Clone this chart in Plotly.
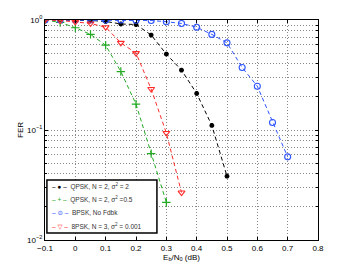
import plotly.graph_objects as go

# Eb/N0 (dB) grid, step 0.05
x_qpsk2 = [-0.1, -0.05, 0.0, 0.05, 0.1, 0.15, 0.2, 0.25, 0.3, 0.35, 0.4, 0.45, 0.5]
fer_qpsk2 = [1.0, 1.0, 1.0, 0.99, 0.97, 0.92, 0.91, 0.73, 0.49, 0.35, 0.215, 0.11, 0.038]

x_qpsk05 = [-0.1, -0.05, 0.0, 0.05, 0.1, 0.15, 0.2, 0.25, 0.3]
fer_qpsk05 = [1.0, 0.95, 0.85, 0.74, 0.59, 0.34, 0.172, 0.061, 0.022]

x_bpsk = [-0.1, -0.05, 0.0, 0.05, 0.1, 0.15, 0.2, 0.25, 0.3, 0.35, 0.4, 0.45,
          0.5, 0.55, 0.6, 0.65, 0.7]
fer_bpsk = [1.0, 1.0, 1.0, 1.0, 1.0, 1.0, 0.995, 0.99, 0.965, 0.93, 0.86, 0.74,
            0.62, 0.37, 0.25, 0.117, 0.057]

x_8psk = [-0.1, -0.05, 0.0, 0.05, 0.1, 0.15, 0.2, 0.25, 0.3, 0.35]
fer_8psk = [1.0, 0.99, 0.96, 0.93, 0.86, 0.62, 0.5, 0.236, 0.094, 0.027]

x_ticks = [-0.1, 0, 0.1, 0.2, 0.3, 0.4, 0.5, 0.6, 0.7, 0.8]
x_ticklabels = ["\u22120.1", "0", "0.1", "0.2", "0.3", "0.4", "0.5", "0.6", "0.7", "0.8"]

y_ticks = [0.01, 0.1, 1.0]
y_ticklabels = ["10<sup>\u22122</sup>", "10<sup>\u22121</sup>", "10<sup>0</sup>"]
y_minor = [d * m for d in (0.01, 0.1) for m in range(2, 10)]

names = ["QPSK, N = 2, \u03c3<sup>2</sup> = 2",
         "QPSK, N = 2, \u03c3<sup>2</sup> =0.5",
         "BPSK, No Fdbk",
         "8PSK, N = 3, \u03c3<sup>2</sup> = 0.001"]
colors = ["#000000", "#22aa22", "#2f55ff", "#ff2a2a"]
symbols = ["asterisk-open", "cross-thin-open", "circle-open", "triangle-down-open"]
sizes = [4, 6, 6, 6]
widths = [1.6, 1.2, 1.1, 1.1]
glyphs = ["\u25cf", "+", "\u229d", "\u25bd"]

series = [(x_qpsk2, fer_qpsk2), (x_qpsk05, fer_qpsk05), (x_bpsk, fer_bpsk), (x_8psk, fer_8psk)]

fig = go.Figure()
for (xs, ys), name, col, sym, sz, w in zip(series, names, colors, symbols, sizes, widths):
    fig.add_trace(go.Scatter(
        x=xs, y=ys, name=name, mode="lines+markers", showlegend=False,
        line=dict(color=col, width=1, dash="4px,3px"),
        marker=dict(symbol=sym, size=sz, line=dict(color=col, width=w))))

# legend box drawn as annotations so rows stay as compact as the original
fig.add_shape(type="rect", xref="paper", yref="paper", x0=0.007, x1=0.41, y0=0.032, y1=0.273,
              line=dict(color="black", width=1.5), fillcolor="white", layer="above")
row_y = [0.241, 0.182, 0.123, 0.064]
for name, col, gl, yy in zip(names, colors, glyphs, row_y):
    fig.add_annotation(
        xref="paper", yref="paper", x=0.02, y=yy, xanchor="left", yanchor="middle",
        showarrow=False, align="left",
        font=dict(family="Liberation Sans, DejaVu Sans", size=6.5, color="#333"),
        text=f"<span style='color:{col}'>\u2013 {gl} \u2013</span>&nbsp; {name}")

axis_font = dict(family="Liberation Sans, Arial", size=8, color="black")
grid = dict(showgrid=True, gridcolor="#888888", griddash="1px,2px", gridwidth=1)

# page has an 8px body margin, so the figure is 8px smaller and shifted
fig.update_layout(
    width=343, height=263,
    margin=dict(l=37, r=33, t=12, b=31),
    paper_bgcolor="white", plot_bgcolor="white",
    font=axis_font,
    showlegend=False,
    xaxis=dict(range=[-0.1, 0.8], tickvals=x_ticks, ticktext=x_ticklabels,
               automargin=False, **grid,
               showline=True, linecolor="black", linewidth=1, mirror="ticks",
               ticks="inside", ticklen=3, tickcolor="black", zeroline=False,
               title=dict(text="E<sub>b</sub>/N<sub>0</sub> (dB)", font=axis_font, standoff=0)),
    yaxis=dict(type="log", range=[-2, 0], tickvals=y_ticks, ticktext=y_ticklabels,
               automargin=False, **grid,
               showline=True, linecolor="black", linewidth=1, mirror="ticks",
               ticks="inside", ticklen=3, tickcolor="black", zeroline=False,
               minor=dict(tickvals=y_minor, ticks="inside", ticklen=2, tickcolor="black", **grid),
               title=dict(text="FER", font=axis_font, standoff=2)),
)

fig.write_html("out.html")
